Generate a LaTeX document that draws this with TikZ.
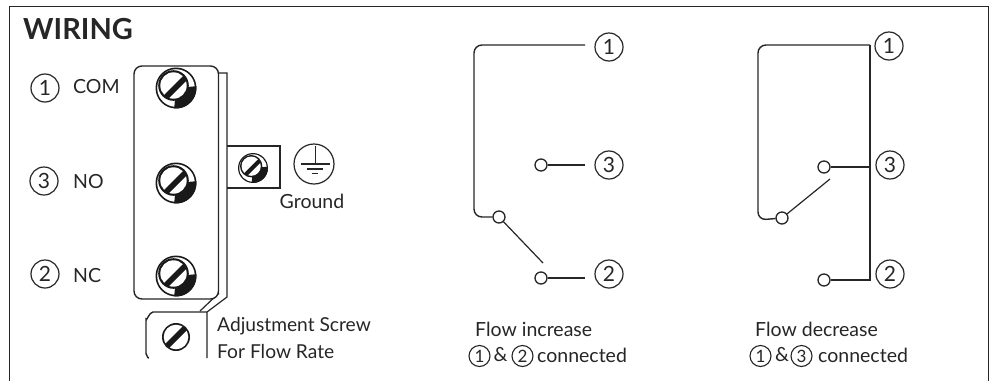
\documentclass[tikz,border=0pt]{standalone}
\usepackage{fontspec}
\setmainfont{Lato}
\tikzset{
  x=1pt,y=-1pt,
  wire/.style={line width=1.4pt,black!85},
  term/.style={circle,draw=black!85,line width=1.2pt,minimum size=28pt,inner sep=0pt,font=\fontsize{21}{21}\selectfont,text=black!85},
  smallterm/.style={circle,draw=black!85,line width=1.1pt,minimum size=21pt,inner sep=0pt,font=\fontsize{17}{17}\selectfont,text=black!85},
  contact/.style={circle,draw=black!85,fill=white,line width=1.3pt,minimum size=12pt,inner sep=0pt},
  lab/.style={anchor=west,inner sep=0pt,text=black!85,font=\fontsize{19.5}{20}\selectfont},
  screw/.pic={
    \fill[black!90] (0,0) circle[radius=20.5];
    \fill[white] (0,0) circle[radius=18.8];
    \fill[black!90] (0,0) -- (-5:20.5) arc[start angle=-5,end angle=95,radius=20.5] -- cycle;
    \fill[black!90] (-2.5,-2.5) circle[radius=15.3];
    \fill[white] (-2.5,-2.5) circle[radius=13.2];
    \begin{scope}
      \clip (-2.5,-2.5) circle[radius=14];
      \fill[black!90] (-17,12) -- (12,-17) -- (16,-13) -- (-13,16) -- cycle;
    \end{scope}
  }
}
\begin{document}
\begin{tikzpicture}
\useasboundingbox (0,0) rectangle (991,381);
\draw[black!85,line width=1pt] (9,381) -- (9,6) -- (988,6) -- (988,381);
\node[anchor=west,inner sep=0pt,font=\bfseries\fontsize{29}{29}\selectfont,text=black!85] (title) at (23,29) {WIRING};
% left terminals
\node[term] (l1) at (45,88) {1};
\node[term] (l3) at (44,181) {3};
\node[term] (l2) at (45,274) {2};
\node[lab] (com) at (73,87) {COM};
\node[lab] (no) at (73,182) {NO};
\node[lab] (nc) at (73,276) {NC};
% back plate
\draw[wire,line width=1.2pt] (219,73) -- (227,73) -- (227,297) -- (207,312);
\draw[wire,line width=1.2pt] (219,293) -- (200,311);
% block
\draw[wire,fill=white,rounded corners=8pt] (134,66) rectangle (218.5,299);
\path (176,88) pic {screw};
\path (176,183) pic {screw};
\path (176,276) pic {screw};
% ground tab
\draw[wire] (227,146) -- (280,146) -- (280,188) -- (227,188);
\path (253,168) pic[scale=.73] {screw};
\node[circle,draw=black!85,line width=1.2pt,minimum size=40pt,inner sep=0pt] (gnd) at (314,164) {};
\draw[wire,line width=1.1pt] (301,164) -- (330,164);
\draw[wire,line width=1.1pt] (315.5,146) -- (315.5,164);
\draw[wire,line width=1.1pt] (307,169) -- (323,169);
\draw[wire,line width=1.1pt] (312,173.5) -- (318,173.5);
\node[lab,anchor=center] (ground) at (312,201) {Ground};
% adjustment
\draw[wire] (149,358) to[out=-135,in=90] (146,354) -- (146,319) to[out=-90,in=180] (153,312) -- (207,312) -- (207,358);
\fill[black!90] (176,337) circle[radius=14];
\fill[white] (176,337) circle[radius=12.3];
\begin{scope}
  \clip (176,337) circle[radius=13];
  \fill[black!90] (160,349) -- (188,321) -- (192,325) -- (164,353) -- cycle;
\end{scope}
\node[lab,font=\fontsize{19.2}{20}\selectfont] (adj) at (217,326) {Adjustment Screw};
\node[lab,font=\fontsize{19.2}{20}\selectfont] (for) at (217,351) {For Flow Rate};
% middle
\node[term] (a1) at (609,47) {1};
\node[term] (a3) at (609,165) {3};
\node[term] (a2) at (609,274) {2};
\node[contact] (ac) at (499,217) {};
\node[contact] (an) at (541,165) {};
\node[contact] (ax) at (541,278) {};
\coordinate (a1e) at (585,45);
\coordinate (a3e) at (585,165);
\coordinate (a2e) at (585,278);
\coordinate (alev) at (543,263);
\draw[wire,rounded corners=8pt] (a1e) -- (474,45) -- (474,217) -- (ac);
\draw[wire] (an) -- (a3e);
\draw[wire] (ax) -- (a2e);
\draw[wire,line width=1.2pt] (ac) -- (alev);
\node[lab] (fi) at (475,329) {Flow increase};
\node[smallterm] (b1) at (479.5,356) {1};
\node[lab] (bamp) at (493.5,355) {\&};
\node[smallterm] (b2) at (522.5,356) {2};
\node[lab] (bc) at (537,355) {connected};
% right
\node[term] (c1) at (889,46) {1};
\node[term] (c3) at (890,165) {3};
\node[term] (c2) at (890,274) {2};
\node[contact] (cc) at (782,218) {};
\node[contact] (cn) at (824,167) {};
\node[contact] (cx) at (824,280) {};
\coordinate (clev) at (830,179);
\coordinate (cj1) at (870,45);
\coordinate (cj3) at (870,167);
\coordinate (cj2) at (870,280);
\draw[wire,rounded corners=8pt] (cc) -- (758,220) -- (758,45) -- (cj1);
\draw[wire] (cj1) -- (cj2) -- (cx);
\draw[wire] (cn) -- (cj3);
\draw[wire,line width=1.2pt] (cc) -- (clev);
\node[lab] (fd) at (755,329) {Flow decrease};
\node[smallterm] (d1) at (760.5,356) {1};
\node[lab] (damp) at (775,355) {\&};
\node[smallterm] (d3) at (801.5,356) {3};
\node[lab] (dc) at (818,355) {connected};
\end{tikzpicture}
\end{document}
